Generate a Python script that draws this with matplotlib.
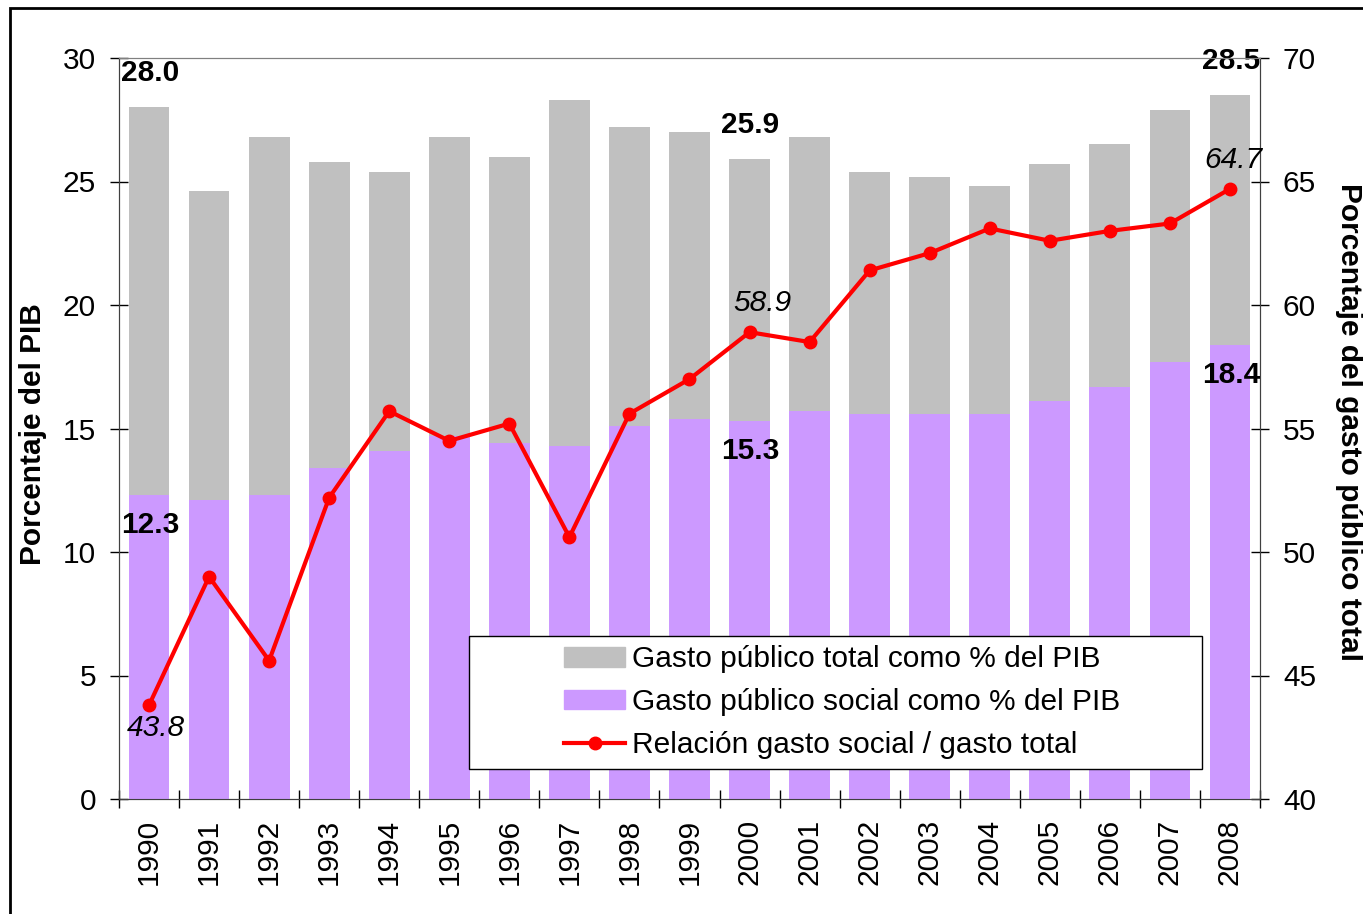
import matplotlib
matplotlib.use("Agg")
import matplotlib.pyplot as plt
from matplotlib.patches import Rectangle
from matplotlib.lines import Line2D
from matplotlib.ticker import FixedLocator, NullFormatter

plt.rcParams['font.family'] = ['Liberation Sans', 'DejaVu Sans']

years = [str(y) for y in range(1990, 2009)]
gasto_total = [28.0, 24.6, 26.8, 25.8, 25.4, 26.8, 26.0, 28.3, 27.2, 27.0,
               25.9, 26.8, 25.4, 25.2, 24.8, 25.7, 26.5, 27.9, 28.5]
gasto_social = [12.3, 12.1, 12.3, 13.4, 14.1, 14.7, 14.4, 14.3, 15.1, 15.4,
                15.3, 15.7, 15.6, 15.6, 15.6, 16.1, 16.7, 17.7, 18.4]
relacion = [43.8, 49.0, 45.6, 52.2, 55.7, 54.5, 55.2, 50.6, 55.6, 57.0,
            58.9, 58.5, 61.4, 62.1, 63.1, 62.6, 63.0, 63.3, 64.7]

labels = ["Gasto público total como % del PIB",
          "Gasto público social como % del PIB",
          "Relación gasto social / gasto total"]
left_label = "Porcentaje del PIB"
right_label = "Porcentaje del gasto público total"
left_ticks = [0, 5, 10, 15, 20, 25, 30]
right_ticks = [40, 45, 50, 55, 60, 65, 70]
label_idx = [0, 10, 18]

W, H = 1363, 914
AX_L, AX_R, AX_T, AX_B = 119, 1260, 58, 799
fig = plt.figure(figsize=(W / 100, H / 100), dpi=100)
ax = fig.add_axes([AX_L / W, 1 - AX_B / H, (AX_R - AX_L) / W, (AX_B - AX_T) / H])
ax2 = ax.twinx()


def axfrac(px, py):
    return ((px - AX_L) / (AX_R - AX_L), (AX_B - py) / (AX_B - AX_T))


x = list(range(len(years)))
ax.bar(x, gasto_total, width=0.68, color='#C0C0C0', zorder=2)
ax.bar(x, gasto_social, width=0.68, color='#CC99FF', zorder=3)
ax.set_xlim(-0.5, len(years) - 0.5)
ax.set_ylim(0, 30)
ax2.set_ylim(40, 70)

ax2.plot(x, relacion, color='#FF0000', lw=3, marker='o', ms=9, zorder=5)

fs = 21.5
ax.set_yticks(left_ticks)
ax.set_yticklabels([str(t) for t in left_ticks], fontsize=fs)
ax2.set_yticks(right_ticks)
ax2.set_yticklabels([str(t) for t in right_ticks], fontsize=fs)
ax.set_xticks(x)
ax.set_xticklabels(years, rotation=90, fontsize=fs)
ax.xaxis.set_minor_locator(FixedLocator([i - 0.5 for i in range(len(years) + 1)]))
ax.xaxis.set_minor_formatter(NullFormatter())
ax.tick_params(axis='x', which='major', length=0, pad=14)
ax.tick_params(axis='x', which='minor', direction='inout', length=13, width=1)
ax.tick_params(axis='y', direction='inout', length=13, width=1, pad=10)
ax2.tick_params(axis='y', direction='inout', length=13, width=1, pad=10)

for a in (ax, ax2):
    a.spines['top'].set_color('#808080')
    a.spines['left'].set_color('#404040')
    a.spines['right'].set_color('#404040')
    a.spines['bottom'].set_color('#404040')
    a.patch.set_visible(False)

fig.text(33 / W, 1 - 434 / H, left_label, rotation=90, ha='center', va='center',
         fontsize=fs, fontweight='bold')
fig.text(1349 / W, 1 - 422 / H, right_label, rotation=270, ha='center', va='center',
         fontsize=fs, fontweight='bold')

for i in label_idx:
    ax.annotate(f"{gasto_total[i]:.1f}", (x[i], gasto_total[i]), xytext=(1, 34),
                textcoords='offset pixels', ha='center', va='center',
                fontsize=fs, fontweight='bold', zorder=10)
    ax.annotate(f"{gasto_social[i]:.1f}", (x[i], gasto_social[i]), xytext=(1, -30),
                textcoords='offset pixels', ha='center', va='center',
                fontsize=fs, fontweight='bold', zorder=10)
for i in label_idx:
    dy = -23 if i == 0 else 29
    dx = 7 if i == 0 else (13 if i == 10 else 3)
    ax2.annotate(f"{relacion[i]:.1f}", (x[i], relacion[i]), xytext=(dx, dy),
                 textcoords='offset pixels', ha='center', va='center',
                 fontsize=fs, fontstyle='italic', zorder=10)

# legend frame (wider than its content, as in the original)
x0, y0 = axfrac(469, 769)
x1, y1 = axfrac(1202, 636)
ax2.add_patch(Rectangle((x0, y0), x1 - x0, y1 - y0, transform=ax2.transAxes,
                        facecolor='white', edgecolor='black', lw=1, zorder=15))

handles = [Rectangle((0, 0), 1, 1, color='#C0C0C0'),
           Rectangle((0, 0), 1, 1, color='#CC99FF'),
           Line2D([], [], color='#FF0000', lw=3, marker='o', ms=9)]
leg = ax2.legend(handles, labels, loc='center left',
                 bbox_to_anchor=axfrac(564, 702),
                 fontsize=fs, frameon=False,
                 borderpad=0, handlelength=2.05, handleheight=0.65, handletextpad=0.23,
                 labelspacing=0.5, borderaxespad=0)
leg.set_zorder(20)

fig.patches.append(Rectangle((10 / W, -0.1), 1.2, (H - 8) / H + 0.1, transform=fig.transFigure,
                             fill=False, edgecolor='black', lw=2, figure=fig))

fig.savefig('out.png', dpi=100)
